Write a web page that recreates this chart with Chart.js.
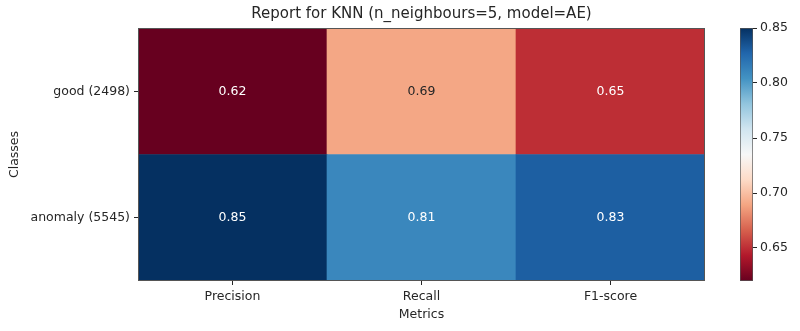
<!DOCTYPE html>
<html>
<head>
<meta charset="utf-8">
<script src="https://cdn.jsdelivr.net/npm/chart.js@4/dist/chart.umd.min.js"></script>
<style>
  html, body { margin: 0; padding: 0; background: #fff; }
  #wrap { position: relative; width: 800px; height: 331px; }
  #heat { position: absolute; left: 0; top: 0; }
  #bar { position: absolute; left: 720px; top: 0; }
</style>
</head>
<body>
<div id="wrap">
  <canvas id="heat" width="800" height="331"></canvas>
  <canvas id="bar" width="80" height="331"></canvas>
</div>
<script>
const metrics = ['Precision', 'Recall', 'F1-score'];
const classes = ['good (2498)', 'anomaly (5545)'];
const goodScores = [0.62, 0.69, 0.65];
const anomalyScores = [0.85, 0.81, 0.83];
const colorbarTicks = [0.65, 0.70, 0.75, 0.80, 0.85];

// RdBu colormap stops
const rdbu = ['#67001f', '#b2182b', '#d6604d', '#f4a582', '#fddbc7', '#f7f7f7',
              '#d1e5f0', '#92c5de', '#4393c3', '#2166ac', '#053061'];

const allScores = goodScores.concat(anomalyScores);
const vmin = Math.min(...allScores);
const vmax = Math.max(...allScores);

function hexToRgb(h) {
    return [parseInt(h.slice(1, 3), 16), parseInt(h.slice(3, 5), 16), parseInt(h.slice(5, 7), 16)];
}

function cmap(v) {
    let t = (v - vmin) / (vmax - vmin);
    t = Math.max(0, Math.min(1, t));
    const pos = t * (rdbu.length - 1);
    const i = Math.min(Math.floor(pos), rdbu.length - 2);
    const f = pos - i;
    const a = hexToRgb(rdbu[i]), b = hexToRgb(rdbu[i + 1]);
    const c = a.map((x, k) => Math.round(x + (b[k] - x) * f));
    return 'rgb(' + c.join(',') + ')';
}

function textColor(v) {
    const t = (v - vmin) / (vmax - vmin);
    return (t > 0.2 && t < 0.75) ? '#262626' : '#ffffff';
}

const FONT = 'DejaVu Sans';
const INK = '#262626';
const SPINE = '#555555';
const FS = 12.5;

Chart.defaults.font.family = FONT;
Chart.defaults.color = INK;

// rows bottom-up: anomaly at 0..1, good at 1..2
const rows = [
    { label: classes[1], scores: anomalyScores, index: 0 },
    { label: classes[0], scores: goodScores, index: 1 }
];

const cellLabels = {
    id: 'cellLabels',
    afterDatasetsDraw(chart) {
        const ctx = chart.ctx;
        ctx.save();
        ctx.font = FS + 'px ' + FONT;
        ctx.textAlign = 'center';
        ctx.textBaseline = 'middle';
        chart.data.datasets.forEach((ds, di) => {
            chart.getDatasetMeta(di).data.forEach((bar, i) => {
                const v = ds.scores[i];
                ctx.fillStyle = textColor(v);
                ctx.fillText(v.toFixed(2), bar.x, (bar.y + bar.base) / 2);
            });
        });
        ctx.restore();
    }
};

const frame = {
    id: 'frame',
    afterDraw(chart) {
        const a = chart.chartArea;
        const ctx = chart.ctx;
        ctx.save();
        ctx.strokeStyle = SPINE;
        ctx.lineWidth = 1;
        ctx.strokeRect(a.left + 0.5, a.top + 0.5, a.right - a.left - 1, a.bottom - a.top - 1);
        ctx.restore();
    }
};

new Chart(document.getElementById('heat'), {
    type: 'bar',
    data: {
        labels: metrics,
        datasets: rows.map(r => ({
            label: r.label,
            scores: r.scores,
            data: r.scores.map(() => [r.index, r.index + 1]),
            backgroundColor: r.scores.map(cmap),
            borderWidth: 0,
            barPercentage: 1,
            categoryPercentage: 1,
            grouped: false
        }))
    },
    options: {
        responsive: false,
        animation: false,
        layout: { padding: { left: 0, right: 95, top: 0, bottom: 0 } },
        plugins: {
            legend: { display: false },
            tooltip: { enabled: false },
            title: {
                display: true,
                text: 'Report for KNN (n_neighbours=5, model=AE)',
                fullSize: false,
                color: INK,
                font: { size: 15, weight: 'normal' },
                padding: { top: 5, bottom: 5 }
            }
        },
        scales: {
            x: {
                afterFit: s => { s.height = 50; },
                grid: { offset: false, drawOnChartArea: false, drawTicks: true, tickLength: 4, color: INK },
                border: { display: false },
                ticks: { font: { size: FS }, padding: 4, color: INK },
                title: { display: true, text: 'Metrics', font: { size: FS }, padding: { top: 0, bottom: 9 }, color: INK }
            },
            y: {
                min: 0,
                max: 2,
                afterFit: s => { s.width = 138; },
                afterBuildTicks: s => { s.ticks = rows.map(r => ({ value: r.index + 0.5 })); },
                grid: { drawOnChartArea: false, drawTicks: true, tickLength: 4, color: INK },
                border: { display: false },
                ticks: {
                    font: { size: FS },
                    padding: 4,
                    color: INK,
                    callback: v => {
                        const r = rows.find(row => row.index + 0.5 === v);
                        return r ? r.label : '';
                    }
                },
                title: { display: true, text: 'Classes', font: { size: FS }, padding: { top: 7, bottom: 0 }, color: INK }
            }
        }
    },
    plugins: [cellLabels, frame]
});

function gradientFill(context) {
    const chart = context.chart;
    const a = chart.chartArea;
    if (!a) return rdbu[0];
    const g = chart.ctx.createLinearGradient(0, a.bottom, 0, a.top);
    rdbu.forEach((c, i) => g.addColorStop(i / (rdbu.length - 1), c));
    return g;
}

new Chart(document.getElementById('bar'), {
    type: 'bar',
    data: {
        labels: [''],
        datasets: [{
            data: [[vmin, vmax]],
            backgroundColor: gradientFill,
            borderColor: SPINE,
            borderWidth: 1,
            borderSkipped: false,
            barPercentage: 1,
            categoryPercentage: 1
        }]
    },
    options: {
        responsive: false,
        animation: false,
        layout: { padding: { left: 20, right: 0, top: 28, bottom: 50 } },
        plugins: { legend: { display: false }, tooltip: { enabled: false } },
        scales: {
            x: { display: false },
            y: {
                position: 'right',
                min: vmin,
                max: vmax,
                afterFit: s => { s.width = 47; },
                afterBuildTicks: s => { s.ticks = colorbarTicks.map(v => ({ value: v })); },
                grid: { drawOnChartArea: false, drawTicks: true, tickLength: 4, color: INK },
                border: { display: false },
                ticks: { font: { size: FS }, padding: 3, color: INK, callback: v => v.toFixed(2) }
            }
        }
    }
});
</script>
</body>
</html>
